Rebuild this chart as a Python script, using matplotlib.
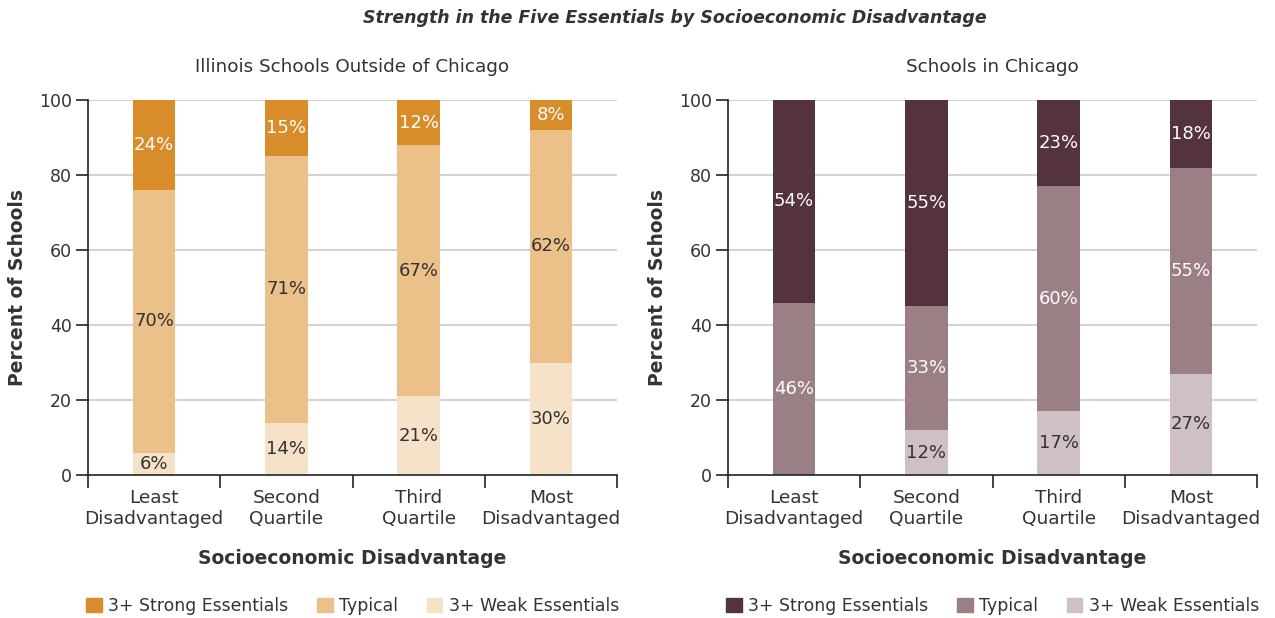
import matplotlib
matplotlib.use("Agg")
import matplotlib.pyplot as plt
from matplotlib.patches import Patch
import numpy as np

# Data: percent of schools in each group by socioeconomic quartile
categories = ["Least\nDisadvantaged", "Second\nQuartile", "Third\nQuartile", "Most\nDisadvantaged"]
series_names = ["3+ Strong Essentials", "Typical", "3+ Weak Essentials"]

outside_weak = [6, 14, 21, 30]
outside_typical = [70, 71, 67, 62]
outside_strong = [24, 15, 12, 8]

chicago_weak = [0, 12, 17, 27]
chicago_typical = [46, 33, 60, 55]
chicago_strong = [54, 55, 23, 18]

yticks = [0, 20, 40, 60, 80, 100]

outside_colors = {"strong": "#D98C2A", "typical": "#EBC089", "weak": "#F6E2C8"}
chicago_colors = {"strong": "#54333F", "typical": "#9A8085", "weak": "#CFC1C3"}
outside_text = {"strong": "white", "typical": "#333333", "weak": "#333333"}
chicago_text = {"strong": "white", "typical": "white", "weak": "#333333"}

plt.rcParams["font.family"] = ["DejaVu Sans"]
TEXT = "#333333"

W, H = 1275, 618
fig = plt.figure(figsize=(W / 100, H / 100), dpi=100)


def panel(left_px, title, weak, typical, strong, colors, tcolors):
    ax = fig.add_axes([left_px / W, (H - 475) / H, 529 / W, 375 / H])
    x = np.arange(len(categories))
    bw = 0.32
    weak = np.array(weak, float)
    typical = np.array(typical, float)
    strong = np.array(strong, float)
    layers = [("weak", weak, np.zeros_like(weak)),
              ("typical", typical, weak),
              ("strong", strong, weak + typical)]
    for key, vals, bottom in layers:
        ax.bar(x, vals, bw, bottom=bottom, color=colors[key], zorder=3)
        for xi, v, b in zip(x, vals, bottom):
            if v > 0:
                ax.text(xi, b + v / 2, f"{v:.0f}%", ha="center", va="center",
                        fontsize=13, color=tcolors[key], zorder=4)
    ax.set_xlim(-0.5, len(categories) - 0.5)
    ax.set_ylim(0, 100)
    ax.set_yticks(yticks)
    ax.set_yticklabels([str(t) for t in yticks], fontsize=12.5, color=TEXT)
    ax.tick_params(axis="y", direction="out", length=8.5, width=1.2, pad=3, color="#222222")
    for t in yticks[1:]:
        ax.axhline(t, color="#D3D3D3", lw=1.5, zorder=1)
    ax.set_xticks(np.arange(-0.5, len(categories)), minor=False)
    ax.set_xticklabels([])
    ax.tick_params(axis="x", which="major", direction="out", length=9.5, width=1.2, color="#222222")
    ax.set_xticks(x, minor=True)
    ax.set_xticklabels(categories, minor=True, fontsize=13.3, color=TEXT, linespacing=1.2)
    ax.tick_params(axis="x", which="minor", length=0, pad=10)
    for s in ("top", "right"):
        ax.spines[s].set_visible(False)
    for s in ("left", "bottom"):
        ax.spines[s].set_color("#222222")
        ax.spines[s].set_linewidth(1.2)
        ax.spines[s].set_zorder(5)
    ax.set_title(title, fontsize=13.2, color=TEXT, pad=20)
    ax.set_xlabel("Socioeconomic Disadvantage", fontsize=13.5, fontweight="bold", color=TEXT, labelpad=15)
    ax.set_ylabel("Percent of Schools", fontsize=13.5, fontweight="bold", color=TEXT, labelpad=9)
    handles = [Patch(color=colors["strong"]), Patch(color=colors["typical"]), Patch(color=colors["weak"])]
    leg = ax.legend(handles, series_names, loc="center", bbox_to_anchor=(0.5, -0.35), ncol=3,
                    frameon=False, fontsize=12.4, handlelength=0.9, handleheight=0.9,
                    handletextpad=0.35, columnspacing=1.7, borderaxespad=0)
    for t in leg.get_texts():
        t.set_color(TEXT)
    return ax


panel(88, "Illinois Schools Outside of Chicago", outside_weak, outside_typical, outside_strong,
      outside_colors, outside_text)
panel(728, "Schools in Chicago", chicago_weak, chicago_typical, chicago_strong,
      chicago_colors, chicago_text)

fig.text(675 / W, 1 - 18 / H, "Strength in the Five Essentials by Socioeconomic Disadvantage",
         ha="center", va="center", fontsize=12.5, fontweight="bold", fontstyle="italic", color=TEXT)

fig.savefig("out.png", dpi=100)
